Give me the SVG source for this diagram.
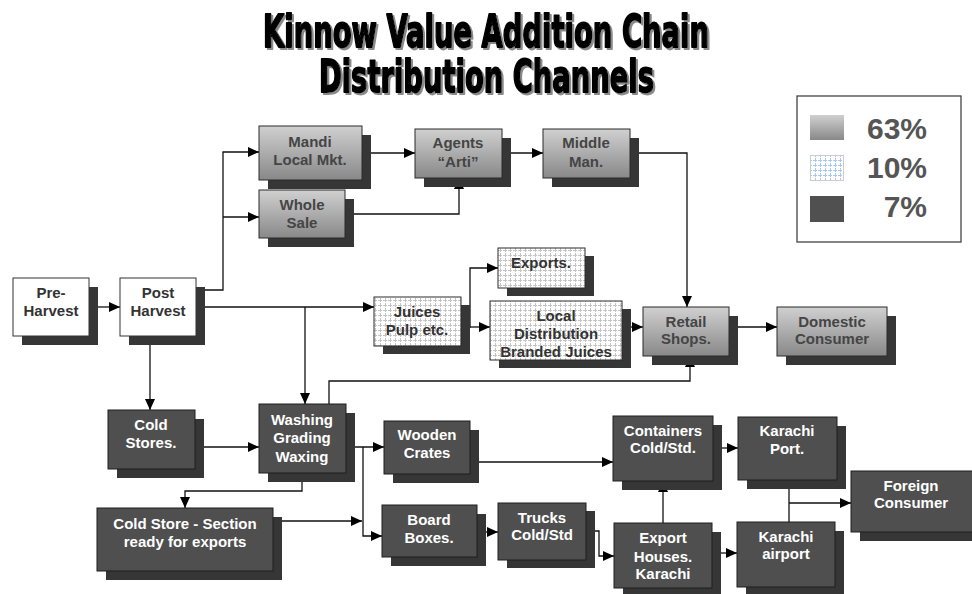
<svg xmlns="http://www.w3.org/2000/svg" width="972" height="594" viewBox="0 0 972 594">
<defs>
<linearGradient id="g" x1="0" y1="0" x2="0" y2="1">
<stop offset="0" stop-color="#d0d0d0"/>
<stop offset="1" stop-color="#888888"/>
</linearGradient>
<pattern id="h" width="5" height="5" patternUnits="userSpaceOnUse">
<rect width="5" height="5" fill="#ffffff"/>
<path d="M0,0.5 H5 M0.5,0 V5" stroke="#c4c4c4" stroke-width="1" stroke-dasharray="2,1"/>
</pattern>
<pattern id="hb" width="5" height="5" patternUnits="userSpaceOnUse">
<rect width="5" height="5" fill="#ffffff"/>
<path d="M0,0.5 H5 M0.5,0 V5" stroke="#a8c8f0" stroke-width="1" stroke-dasharray="2,1"/>
</pattern>
<marker id="a" markerWidth="11" markerHeight="10" refX="11" refY="5" orient="auto" markerUnits="userSpaceOnUse">
<path d="M0,0 L11,5 L0,10 Z" fill="#000"/>
</marker>
<filter id="ts" x="-5%" y="-20%" width="110%" height="140%">
<feDropShadow dx="2" dy="2" stdDeviation="0.6" flood-color="#8a8a8a" flood-opacity="1"/>
</filter>
</defs>
<style>
.sh{fill:#363636}
.gr{fill:url(#g);stroke:#2a2a2a;stroke-width:1}
.ht{fill:url(#h);stroke:#2a2a2a;stroke-width:1}
.dk{fill:#4f4f4f;stroke:#1e1e1e;stroke-width:1}
text{font-family:"Liberation Sans",Arial,sans-serif;font-weight:bold;font-size:15px;text-anchor:middle}
.tg{fill:#454545}
.th{fill:#333333}
.td{fill:#ffffff}
.c{fill:none;stroke:#111;stroke-width:1.3}
.ttl{font-family:"Liberation Sans Narrow","DejaVu Sans Condensed","Liberation Sans",sans-serif;font-size:44px;font-weight:bold;fill:#000;stroke:#000;stroke-width:1.8;stroke-linejoin:round}
.lg{font-size:30px;fill:#555555;text-anchor:end}
</style>

<g id="title" filter="url(#ts)">
<text class="ttl" x="486" y="47" textLength="446" lengthAdjust="spacingAndGlyphs">Kinnow Value Addition Chain</text>
<text class="ttl" x="486.5" y="92" textLength="335" lengthAdjust="spacingAndGlyphs">Distribution Channels</text>
</g>

<g id="legend">
<rect x="797" y="96" width="164" height="146" fill="#fff" stroke="#444" stroke-width="1.3"/>
<rect x="810" y="115" width="34" height="25" fill="url(#g)"/>
<text class="lg" x="927" y="139">63%</text>
<rect x="810.5" y="155.5" width="33" height="25" fill="url(#hb)" stroke="#ccc"/>
<text class="lg" x="927" y="178">10%</text>
<rect x="810" y="196" width="34" height="26" fill="#505050"/>
<text class="lg" x="927" y="217">7%</text>
</g>

<g id="connectors">
<path class="c" d="M89,307 H120" marker-end="url(#a)"/>
<path class="c" d="M198,290 H223 V152 H259" marker-end="url(#a)"/>
<path class="c" d="M223,217 H259" marker-end="url(#a)"/>
<path class="c" d="M203,307 H374" marker-end="url(#a)"/>
<path class="c" d="M305,307 V404" marker-end="url(#a)"/>
<path class="c" d="M150,336 V410" marker-end="url(#a)"/>
<path class="c" d="M362,153 H415" marker-end="url(#a)"/>
<path class="c" d="M502,153 H543" marker-end="url(#a)"/>
<path class="c" d="M353,214 H459 V178" marker-end="url(#a)"/>
<path class="c" d="M630,153 H687 V307" marker-end="url(#a)"/>
<path class="c" d="M462,327 H470 V268 H498" marker-end="url(#a)"/>
<path class="c" d="M470,327 H490" marker-end="url(#a)"/>
<path class="c" d="M614,327 H643" marker-end="url(#a)"/>
<path class="c" d="M738,327 H777" marker-end="url(#a)"/>
<path class="c" d="M329,404 V381 H690 V356" marker-end="url(#a)"/>
<path class="c" d="M198,447 H259" marker-end="url(#a)"/>
<path class="c" d="M302,473 V491 H185 V508" marker-end="url(#a)"/>
<path class="c" d="M346,447 H384" marker-end="url(#a)"/>
<path class="c" d="M363,447 V536 H382" marker-end="url(#a)"/>
<path class="c" d="M273,521 H362" marker-end="url(#a)"/>
<path class="c" d="M468,462 H613" marker-end="url(#a)"/>
<path class="c" d="M477,532 H498" marker-end="url(#a)"/>
<path class="c" d="M586,531 H599 V556 H614" marker-end="url(#a)"/>
<path class="c" d="M663,523 V481" marker-end="url(#a)"/>
<path class="c" d="M713,448 H738" marker-end="url(#a)"/>
<path class="c" d="M712,553 H737" marker-end="url(#a)"/>
<path class="c" d="M789,480 V522"/>
<path class="c" d="M789,503 H851" marker-end="url(#a)"/>
</g>

<g id="pre-harvest">
<rect class="sh" x="22" y="287" width="76" height="58"/>
<rect x="13" y="278" width="76" height="58" fill="#fff" stroke="#333"/>
<text class="th" x="51" y="298">Pre-</text>
<text class="th" x="51" y="316">Harvest</text>
</g>
<g id="post-harvest">
<rect class="sh" x="129" y="287" width="76" height="58"/>
<rect x="120" y="278" width="76" height="58" fill="#fff" stroke="#333"/>
<text class="th" x="158" y="298">Post</text>
<text class="th" x="158" y="316">Harvest</text>
</g>
<g id="mandi">
<rect class="sh" x="268" y="135" width="103" height="54"/>
<rect class="gr" x="259" y="126" width="103" height="54"/>
<text class="tg" x="310" y="147">Mandi</text>
<text class="tg" x="310" y="165">Local Mkt.</text>
</g>
<g id="wholesale">
<rect class="sh" x="268" y="199" width="86" height="48"/>
<rect class="gr" x="259" y="190" width="86" height="48"/>
<text class="tg" x="302" y="210">Whole</text>
<text class="tg" x="302" y="228">Sale</text>
</g>
<g id="agents">
<rect class="sh" x="424" y="138" width="87" height="49"/>
<rect class="gr" x="415" y="129" width="87" height="49"/>
<text class="tg" x="458" y="148">Agents</text>
<text class="tg" x="458" y="167">“Arti”</text>
</g>
<g id="middleman">
<rect class="sh" x="552" y="138" width="87" height="49"/>
<rect class="gr" x="543" y="129" width="87" height="49"/>
<text class="tg" x="586" y="148">Middle</text>
<text class="tg" x="586" y="167">Man.</text>
</g>
<g id="exports">
<rect class="sh" x="507" y="256" width="87" height="40"/>
<rect class="ht" x="498" y="248" width="87" height="40"/>
<text class="th" x="541" y="268">Exports.</text>
</g>
<g id="juices">
<rect class="sh" x="383" y="305" width="87" height="49"/>
<rect class="ht" x="374" y="297" width="87" height="49"/>
<text class="th" x="417" y="317">Juices</text>
<text class="th" x="417" y="335">Pulp etc.</text>
</g>
<g id="local-distribution">
<rect class="sh" x="499" y="309" width="132" height="59"/>
<rect class="ht" x="490" y="301" width="132" height="59"/>
<text class="th" x="556" y="321">Local</text>
<text class="th" x="556" y="339">Distribution</text>
<text class="th" x="556" y="357">Branded Juices</text>
</g>
<g id="retail">
<rect class="sh" x="652" y="316" width="86" height="49"/>
<rect class="gr" x="643" y="307" width="86" height="49"/>
<text class="tg" x="686" y="327">Retail</text>
<text class="tg" x="686" y="344">Shops.</text>
</g>
<g id="domestic">
<rect class="sh" x="786" y="316" width="110" height="49"/>
<rect class="gr" x="777" y="307" width="110" height="49"/>
<text class="tg" x="832" y="327">Domestic</text>
<text class="tg" x="832" y="344">Consumer</text>
</g>
<g id="cold-stores">
<rect class="sh" x="117" y="419" width="87" height="59"/>
<rect class="dk" x="108" y="410" width="87" height="59"/>
<text class="td" x="151" y="430">Cold</text>
<text class="td" x="151" y="448">Stores.</text>
</g>
<g id="washing">
<rect class="sh" x="268" y="413" width="87" height="69"/>
<rect class="dk" x="259" y="404" width="87" height="69"/>
<text class="td" x="302" y="425">Washing</text>
<text class="td" x="302" y="443">Grading</text>
<text class="td" x="302" y="462">Waxing</text>
</g>
<g id="cold-store-section">
<rect class="sh" x="106" y="517" width="176" height="63"/>
<rect class="dk" x="97" y="508" width="176" height="63"/>
<text class="td" x="185" y="529">Cold Store - Section</text>
<text class="td" x="185" y="547">ready for exports</text>
</g>
<g id="wooden">
<rect class="sh" x="393" y="430" width="86" height="53"/>
<rect class="dk" x="384" y="421" width="86" height="53"/>
<text class="td" x="427" y="440">Wooden</text>
<text class="td" x="427" y="458">Crates</text>
</g>
<g id="board">
<rect class="sh" x="391" y="514" width="95" height="52"/>
<rect class="dk" x="382" y="505" width="95" height="52"/>
<text class="td" x="429" y="525">Board</text>
<text class="td" x="429" y="543">Boxes.</text>
</g>
<g id="trucks">
<rect class="sh" x="507" y="511" width="88" height="57"/>
<rect class="dk" x="498" y="503" width="88" height="57"/>
<text class="td" x="542" y="523">Trucks</text>
<text class="td" x="542" y="540">Cold/Std</text>
</g>
<g id="containers">
<rect class="sh" x="622" y="425" width="100" height="65"/>
<rect class="dk" x="613" y="416" width="100" height="65"/>
<text class="td" x="663" y="436">Containers</text>
<text class="td" x="663" y="453">Cold/Std.</text>
</g>
<g id="karachi-port">
<rect class="sh" x="747" y="426" width="99" height="63"/>
<rect class="dk" x="738" y="417" width="99" height="63"/>
<text class="td" x="787" y="436">Karachi</text>
<text class="td" x="787" y="454">Port.</text>
</g>
<g id="foreign">
<rect class="sh" x="860" y="480" width="125" height="61"/>
<rect class="dk" x="851" y="471" width="125" height="61"/>
<text class="td" x="911" y="491">Foreign</text>
<text class="td" x="911" y="508">Consumer</text>
</g>
<g id="export-houses">
<rect class="sh" x="623" y="532" width="98" height="65"/>
<rect class="dk" x="614" y="523" width="98" height="65"/>
<text class="td" x="663" y="543">Export</text>
<text class="td" x="663" y="562">Houses.</text>
<text class="td" x="663" y="579">Karachi</text>
</g>
<g id="karachi-airport">
<rect class="sh" x="746" y="531" width="98" height="65"/>
<rect class="dk" x="737" y="522" width="98" height="65"/>
<text class="td" x="786" y="542">Karachi</text>
<text class="td" x="786" y="559">airport</text>
</g>
</svg>
